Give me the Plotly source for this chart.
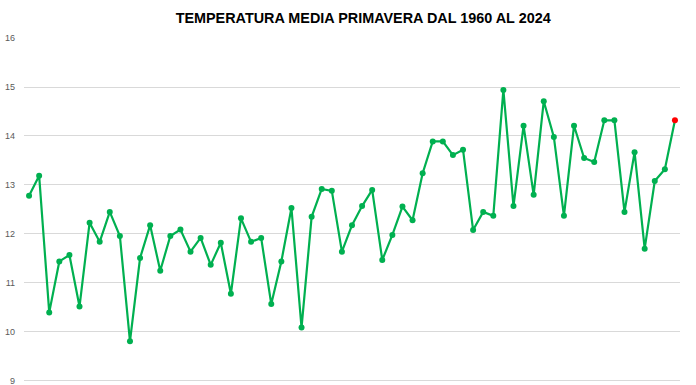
import plotly.graph_objects as go

years = list(range(1960, 2025))
temps = [12.78, 13.19, 10.40, 11.44, 11.57, 10.52, 12.23, 11.84, 12.45, 11.96,
         9.81, 11.51, 12.18, 11.25, 11.96, 12.09, 11.64, 11.92, 11.37, 11.82,
         10.78, 12.32, 11.84, 11.92, 10.57, 11.44, 12.53, 10.09, 12.35, 12.92,
         12.88, 11.64, 12.18, 12.57, 12.90, 11.47, 11.98, 12.56, 12.28, 13.24,
         13.89, 13.89, 13.61, 13.72, 12.08, 12.45, 12.37, 14.94, 12.57, 14.21,
         12.80, 14.71, 13.98, 12.37, 14.21, 13.55, 13.47, 14.32, 14.32, 12.45,
         13.67, 11.70, 13.08, 13.32, 14.32]
title = "TEMPERATURA MEDIA PRIMAVERA DAL 1960 AL 2024"
y_ticks = [9, 10, 11, 12, 13, 14, 15, 16]

green = "#00B050"
colors = [green] * (len(years) - 1) + ["#FF0000"]

fig = go.Figure()
fig.add_trace(go.Scatter(
    x=years, y=temps, mode="lines+markers",
    line=dict(color=green, width=2.2),
    marker=dict(color=colors, size=6, line=dict(width=0)),
    hoverinfo="x+y", showlegend=False, cliponaxis=False,
))

fig.update_layout(
    width=696, height=385,
    margin=dict(l=24, r=16, t=38, b=0, autoexpand=False),
    paper_bgcolor="white", plot_bgcolor="white",
    font=dict(family="Liberation Sans, Arial, sans-serif"),
    title=dict(text=f"<b>{title}</b>", xref="paper", x=0.517, xanchor="center",
               yref="container", y=1 - 18 / 385, yanchor="middle",
               font=dict(size=14.4, color="#000000")),
    xaxis=dict(range=[1959.5, 2024.5], showgrid=False, showticklabels=False,
               zeroline=False, showline=False, ticks="", automargin=False),
    yaxis=dict(range=[8.918, 16], tickvals=y_ticks, showgrid=True, gridcolor="#D9D9D9",
               gridwidth=1, zeroline=False, showline=False, ticks="", automargin=False,
               tickfont=dict(size=9, color="#595959"), ticklabelstandoff=8,
               ticklabeloverflow="allow"),
)

fig.write_html("out.html", config={"displayModeBar": False},
               post_script="document.body.style.margin='0px';")
